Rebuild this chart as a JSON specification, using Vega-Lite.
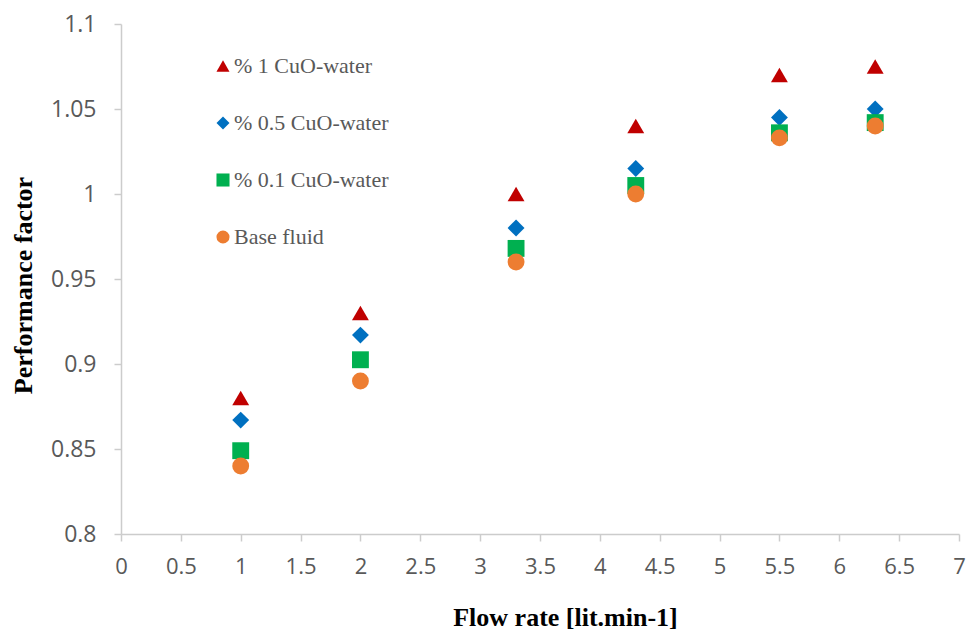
{
  "$schema": "https://vega.github.io/schema/vega-lite/v6.json",
  "autosize": {"type": "none"},
  "width": 838,
  "height": 510,
  "padding": {"left": 121, "top": 24, "right": 8, "bottom": 96},
  "background": "white",
  "config": {"view": {"stroke": null}},
  "data": {
    "values": [
      {"series": "% 1 CuO-water", "flow": 1, "pf": 0.880},
      {"series": "% 1 CuO-water", "flow": 2, "pf": 0.930},
      {"series": "% 1 CuO-water", "flow": 3.3, "pf": 1.000},
      {"series": "% 1 CuO-water", "flow": 4.3, "pf": 1.040},
      {"series": "% 1 CuO-water", "flow": 5.5, "pf": 1.070},
      {"series": "% 1 CuO-water", "flow": 6.3, "pf": 1.075},
      {"series": "% 0.5 CuO-water", "flow": 1, "pf": 0.867},
      {"series": "% 0.5 CuO-water", "flow": 2, "pf": 0.917},
      {"series": "% 0.5 CuO-water", "flow": 3.3, "pf": 0.980},
      {"series": "% 0.5 CuO-water", "flow": 4.3, "pf": 1.015},
      {"series": "% 0.5 CuO-water", "flow": 5.5, "pf": 1.045},
      {"series": "% 0.5 CuO-water", "flow": 6.3, "pf": 1.050},
      {"series": "% 0.1 CuO-water", "flow": 1, "pf": 0.849},
      {"series": "% 0.1 CuO-water", "flow": 2, "pf": 0.9025},
      {"series": "% 0.1 CuO-water", "flow": 3.3, "pf": 0.968},
      {"series": "% 0.1 CuO-water", "flow": 4.3, "pf": 1.005},
      {"series": "% 0.1 CuO-water", "flow": 5.5, "pf": 1.036},
      {"series": "% 0.1 CuO-water", "flow": 6.3, "pf": 1.042},
      {"series": "Base fluid", "flow": 1, "pf": 0.840},
      {"series": "Base fluid", "flow": 2, "pf": 0.890},
      {"series": "Base fluid", "flow": 3.3, "pf": 0.960},
      {"series": "Base fluid", "flow": 4.3, "pf": 1.000},
      {"series": "Base fluid", "flow": 5.5, "pf": 1.033},
      {"series": "Base fluid", "flow": 6.3, "pf": 1.040}
    ]
  },
  "mark": {"type": "point", "filled": true, "opacity": 1, "size": 285},
  "encoding": {
    "x": {
      "field": "flow", "type": "quantitative",
      "scale": {"domain": [0, 7], "nice": false, "zero": false},
      "axis": {
        "title": "Flow rate [lit.min-1]",
        "values": [0, 0.5, 1, 1.5, 2, 2.5, 3, 3.5, 4, 4.5, 5, 5.5, 6, 6.5, 7],
        "format": "~g",
        "grid": false,
        "domainColor": "#CCCCCC", "domainWidth": 1.5,
        "tickColor": "#CCCCCC", "tickWidth": 1.5, "tickSize": 7,
        "labelFont": "Open Sans", "labelFontSize": 22, "labelColor": "#595959",
        "labelPadding": 15, "labelFlush": false, "labelOverlap": false,
        "titleFont": "Liberation Serif", "titleFontSize": 26, "titleFontWeight": "bold",
        "titleColor": "#000000", "titleBaseline": "middle", "titleAlign": "center",
        "titleX": 444, "titleY": 83
      }
    },
    "y": {
      "field": "pf", "type": "quantitative",
      "scale": {"domain": [0.8, 1.1], "nice": false, "zero": false},
      "axis": {
        "title": "Performance factor",
        "values": [0.8, 0.85, 0.9, 0.95, 1, 1.05, 1.1],
        "format": "~g",
        "grid": false,
        "domainColor": "#CCCCCC", "domainWidth": 1.5,
        "tickColor": "#CCCCCC", "tickWidth": 1.5, "tickSize": 7,
        "labelFont": "Open Sans", "labelFontSize": 23, "labelColor": "#595959",
        "labelPadding": 18, "labelFlush": false, "labelOverlap": false,
        "titleFont": "Liberation Serif", "titleFontSize": 26, "titleFontWeight": "bold",
        "titleColor": "#000000", "titleBaseline": "middle", "titleX": -98, "titleY": 261, "titleAngle": -90
      }
    },
    "color": {
      "field": "series", "type": "nominal",
      "scale": {
        "domain": ["% 1 CuO-water", "% 0.5 CuO-water", "% 0.1 CuO-water", "Base fluid"],
        "range": ["#C00000", "#0070C0", "#00B050", "#ED7D31"]
      },
      "legend": {
        "title": null, "orient": "none", "legendX": 91, "legendY": 31,
        "padding": 0, "symbolSize": 170, "symbolStrokeWidth": 0,
        "labelFont": "Liberation Serif", "labelFontSize": 22, "labelColor": "#595959",
        "labelOffset": 0, "rowPadding": 35
      }
    },
    "shape": {
      "field": "series", "type": "nominal",
      "scale": {
        "domain": ["% 1 CuO-water", "% 0.5 CuO-water", "% 0.1 CuO-water", "Base fluid"],
        "range": ["triangle-up", "diamond", "square", "circle"]
      },
      "legend": {
        "title": null, "orient": "none", "legendX": 91, "legendY": 31,
        "padding": 0, "symbolSize": 170, "symbolStrokeWidth": 0,
        "labelFont": "Liberation Serif", "labelFontSize": 22, "labelColor": "#595959",
        "labelOffset": 0, "rowPadding": 35
      }
    }
  }
}
